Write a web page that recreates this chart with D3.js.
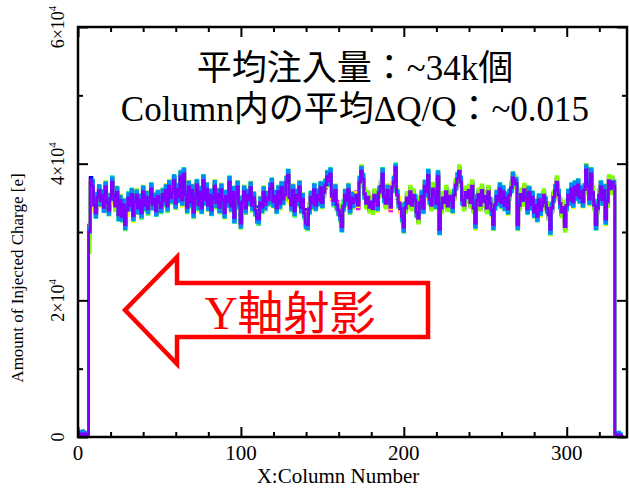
<!DOCTYPE html>
<html><head><meta charset="utf-8">
<script src="https://cdn.jsdelivr.net/npm/d3@7"></script>
<style>html,body{margin:0;padding:0;background:#fff;}svg{display:block;}</style>
</head><body>
<svg id="c" width="629" height="488"></svg>
<script>
// values in units of 100 e (injected charge), one per column 0..335
const UNIT = 100;
const serRed = [3,1,4,2,0,5,2,310,378,365,
336,330,348,364,343,356,333,369,340,334,345,376,351,340,355,327,343,325,337,313,
329,353,336,357,321,346,351,337,344,330,356,341,348,336,341,366,337,350,328,354,
340,338,352,348,358,340,364,352,355,378,339,364,348,384,344,388,351,338,363,346,
358,331,347,372,337,360,332,378,344,365,336,356,329,352,364,345,352,338,359,349,
325,354,341,376,335,360,318,352,363,344,310,346,356,337,351,349,362,341,347,334,
318,321,340,338,355,342,348,349,360,372,341,354,332,361,339,367,345,356,370,385,
347,341,358,333,351,348,363,338,345,330,310,313,331,353,339,364,336,356,343,367,
340,360,366,383,372,387,349,348,358,342,329,326,305,340,351,348,359,337,347,345,
344,356,336,375,392,379,353,344,348,338,341,336,351,348,336,360,364,387,348,344,
358,350,333,368,370,396,351,345,331,325,304,337,347,344,356,341,351,348,326,322,
340,354,332,369,356,385,345,341,360,356,339,383,301,337,347,345,356,340,349,348,
333,356,366,380,386,375,344,341,355,352,358,345,364,337,310,348,352,341,358,346,
349,337,356,344,329,313,337,354,343,365,340,361,336,352,331,356,362,381,372,373,
308,341,352,348,359,352,331,360,337,353,326,341,320,349,329,340,351,345,332,327,
301,337,348,363,370,356,339,331,333,310,336,356,344,365,341,368,351,371,347,361,
341,364,393,369,345,387,355,341,308,336,351,368,344,363,316,346,372,365,370,369,
2,0,3,1,0,0];
const serOrange = [6,8,4,9,5,3,7,290,371,364,
343,325,355,358,350,351,340,363,347,329,352,370,358,335,362,322,350,320,344,308,
336,347,343,352,328,341,358,332,351,325,363,336,355,331,348,360,344,345,335,349,
347,333,359,343,365,335,371,347,362,372,346,359,355,378,351,382,358,333,370,341,
365,326,354,366,344,355,339,372,351,360,343,351,336,347,371,340,359,333,366,344,
332,349,348,370,342,355,325,347,370,339,317,341,363,332,358,344,369,336,354,329,
325,316,347,333,362,337,355,344,367,367,348,349,339,356,346,362,352,351,377,380,
354,336,365,328,358,343,370,333,352,325,317,308,338,348,346,359,343,351,350,362,
347,355,373,378,379,382,356,343,365,337,336,321,312,335,358,343,366,332,354,340,
351,351,343,370,393,374,360,339,355,333,348,331,358,343,343,355,371,382,355,339,
365,345,340,363,377,391,358,340,338,320,311,332,354,339,363,336,358,343,333,317,
347,349,339,364,363,380,352,336,367,351,346,378,308,332,354,340,363,335,356,343,
340,351,373,375,393,370,351,336,362,347,365,340,371,332,317,343,359,336,365,341,
356,332,363,339,336,308,344,349,350,360,347,356,343,347,338,351,369,376,379,368,
315,336,359,343,366,347,338,355,344,348,333,336,327,344,336,335,358,340,339,322,
308,332,355,358,377,351,346,326,340,305,343,351,351,360,348,363,358,366,354,356,
348,359,395,364,352,382,362,336,315,331,358,363,351,358,323,341,379,360,377,364,
5,3,6,2,0,0];
const serYellow = [4,2,5,1,3,6,2,300,369,371,
331,332,349,367,337,357,332,374,337,333,340,377,352,344,349,328,342,331,334,312,
324,354,337,361,315,347,350,343,341,329,351,343,349,340,335,366,336,356,325,353,
335,340,353,352,352,341,363,358,352,376,334,366,349,387,338,388,350,344,360,345,
353,333,348,375,331,361,331,383,341,364,331,358,330,356,358,346,351,344,356,348,
320,356,342,379,329,361,317,358,360,343,305,348,357,341,345,350,361,347,344,333,
313,323,341,342,349,343,347,355,357,371,336,356,333,365,333,368,344,362,367,384,
342,343,359,337,345,349,362,344,342,329,305,315,332,357,333,365,335,362,340,366,
335,362,367,387,366,388,348,354,355,341,324,328,306,344,345,349,358,343,344,344,
339,358,337,379,380,380,352,350,345,337,336,338,352,352,330,361,363,393,345,343,
353,352,334,372,364,397,350,351,328,324,299,339,348,348,350,342,350,354,323,321,
335,356,333,373,350,386,344,347,357,355,334,385,302,341,341,346,355,346,346,347,
328,358,367,384,380,376,343,347,352,351,353,347,365,341,304,349,351,347,355,345,
344,339,357,348,323,314,336,360,340,364,335,363,337,356,325,357,361,387,369,372,
303,343,353,352,353,353,330,366,334,352,321,343,321,353,323,341,350,351,329,326,
296,339,349,367,364,357,338,337,330,309,331,358,345,369,335,369,350,377,344,360,
336,366,389,373,339,388,354,347,305,335,346,370,345,367,310,347,371,371,367,368,
4,2,1,3,0,0];
const serChartreuse = [1,3,2,4,2,1,3,270,368,360,
347,336,344,354,354,347,344,359,351,325,356,366,362,331,366,318,354,316,348,304,
340,343,347,348,332,337,362,328,355,321,367,332,359,327,352,356,348,341,339,345,
351,329,363,339,369,331,375,343,366,368,350,355,359,374,355,378,362,329,374,337,
369,322,358,362,348,351,343,368,355,356,347,347,340,343,375,336,363,329,370,340,
336,345,352,366,346,351,329,343,374,335,321,337,367,328,362,340,373,332,358,325,
329,312,351,329,366,333,359,340,371,363,352,345,343,352,350,358,356,347,381,376,
358,332,369,324,362,339,374,329,356,321,321,304,342,344,350,355,347,347,354,358,
351,351,377,374,383,378,360,339,369,333,340,317,316,331,362,339,370,328,358,336,
355,347,347,366,397,370,364,335,359,329,352,327,362,339,347,351,375,378,359,335,
369,341,344,359,381,387,362,336,342,316,315,328,358,335,367,332,362,339,337,313,
351,345,343,360,367,376,356,332,371,347,350,374,312,328,358,336,367,331,360,339,
344,347,377,371,397,366,355,332,366,343,369,336,375,328,321,339,363,332,369,337,
360,328,367,335,340,304,348,345,354,356,351,352,347,343,342,347,373,372,383,364,
319,332,363,339,370,343,342,351,348,344,337,332,331,340,340,331,362,336,343,318,
312,328,359,354,381,347,350,322,344,301,347,347,355,356,352,359,362,362,358,352,
352,355,399,360,356,378,366,332,319,327,362,359,355,354,327,337,383,356,381,360,
2,1,3,0,0,0];
const serSpring = [3,2,6,4,1,3,2,295,366,376,
345,321,356,368,340,361,330,373,348,325,354,381,348,345,364,317,351,316,346,303,
337,358,334,363,317,352,359,327,353,320,365,331,357,326,350,371,333,356,324,360,
349,328,361,338,367,330,373,342,364,383,335,370,344,389,340,393,359,328,372,336,
367,321,356,376,333,366,328,383,340,371,332,362,325,358,373,335,361,328,368,339,
321,360,337,381,331,366,314,358,372,334,306,352,365,327,360,339,371,331,356,324,
314,311,349,328,364,332,357,339,369,378,337,360,328,367,335,373,341,362,379,391,
356,331,367,323,360,338,372,328,354,320,306,303,327,359,335,370,332,362,339,373,
336,366,375,389,368,393,358,338,367,332,325,316,301,346,360,338,368,327,356,335,
353,346,345,381,395,385,349,348,344,344,337,342,347,354,332,366,360,393,344,350,
367,340,342,358,379,400,360,335,340,315,300,343,343,350,352,347,347,354,322,328,
336,360,328,375,352,391,341,347,356,362,335,389,297,343,343,351,352,346,345,354,
329,362,362,386,382,381,340,347,351,358,354,351,360,343,306,354,348,347,354,352,
345,343,352,350,325,304,333,360,339,371,336,367,332,358,327,362,358,387,368,379,
304,347,348,354,355,358,327,366,333,359,322,347,316,355,325,346,347,351,328,333,
297,343,344,369,366,362,335,337,329,316,332,362,340,371,337,374,347,377,343,367,
337,370,384,375,341,393,351,347,304,342,347,374,340,369,312,352,368,371,366,375,
2,4,1,3,0,0];
const serMagenta = [2,3,1,4,2,3,1,300,370,372,
334,333,346,366,341,359,331,371,338,337,343,378,349,343,353,330,341,328,335,316,
327,355,334,360,319,349,349,340,342,333,354,344,346,339,339,368,335,353,326,357,
338,341,350,351,356,343,362,355,353,380,337,367,346,386,342,390,349,341,361,349,
356,334,345,374,335,363,330,380,342,368,334,359,327,355,362,348,350,341,357,352,
323,357,339,378,333,363,316,355,361,347,308,349,354,340,349,352,360,344,345,337,
316,324,338,341,353,345,346,352,358,375,339,357,330,364,337,370,343,359,368,388,
345,344,356,336,349,351,361,341,343,333,308,316,329,356,337,367,334,359,341,370,
338,363,364,386,370,390,347,351,356,345,327,329,303,343,349,351,357,340,345,348,
342,359,334,378,384,382,351,347,346,341,339,339,349,351,334,363,362,390,346,347,
356,353,331,371,368,399,349,348,329,328,302,340,345,347,354,344,349,351,324,325,
338,357,330,372,354,388,343,344,358,359,337,386,299,340,345,348,354,343,347,351,
331,359,364,383,384,378,342,344,353,355,356,348,362,340,308,351,350,344,356,349,
347,340,354,347,327,316,335,357,341,368,338,364,334,355,329,359,360,384,370,376,
306,344,350,351,357,355,329,363,335,356,324,344,318,352,327,343,349,348,330,330,
299,340,346,366,368,359,337,334,331,313,334,359,342,368,339,371,349,374,345,364,
339,367,386,372,343,390,353,344,306,339,349,371,342,366,314,349,370,368,368,372,
2,1,0,1,0,0];
const serBlue = [4,2,3,5,1,2,4,298,380,362,
343,333,346,365,351,349,340,371,338,336,353,368,358,343,353,329,351,319,344,315,
327,354,344,350,328,349,349,339,352,323,363,344,346,338,349,358,344,353,327,356,
348,331,359,351,356,343,371,345,362,380,337,366,356,376,352,390,349,340,362,349,
356,333,355,364,345,362,330,379,352,358,344,350,337,354,362,348,359,331,367,351,
333,347,349,377,333,363,317,355,361,347,318,339,364,339,349,352,360,344,345,337,
326,323,338,341,353,345,356,343,368,366,349,348,340,355,347,361,353,350,378,379,
355,335,366,336,349,351,361,341,343,333,309,316,330,356,338,367,335,359,341,370,
348,354,374,377,380,381,357,342,366,336,337,320,313,334,359,342,367,331,355,339,
352,350,344,369,394,373,361,338,356,332,349,330,359,342,344,354,372,381,356,338,
366,344,341,362,378,390,359,339,339,319,312,331,355,338,364,335,359,342,334,316,
348,348,340,363,364,379,353,335,368,350,347,377,309,331,355,339,364,334,357,342,
341,350,374,374,394,369,352,335,363,346,366,339,372,331,318,342,360,335,366,340,
357,331,364,338,337,307,345,348,351,359,348,355,344,346,339,350,370,375,380,367,
316,335,360,342,367,346,339,354,345,347,334,335,328,343,337,334,359,339,340,321,
309,331,356,357,378,350,347,325,341,304,344,350,352,359,349,362,359,365,355,355,
349,358,392,363,353,381,363,335,316,330,359,362,352,357,324,340,380,359,378,363,
3,2,4,1,0,0];
const serAzure = [5,8,6,9,7,4,6,305,372,375,
346,322,357,368,339,360,330,372,350,326,355,379,347,344,365,318,352,317,347,305,
339,356,332,362,318,350,360,328,354,322,366,333,358,328,351,370,334,355,325,359,
350,330,362,340,368,332,374,344,365,382,336,369,345,388,341,392,360,330,373,338,
368,323,357,375,334,365,329,382,341,370,333,361,326,357,374,337,362,330,369,341,
322,359,338,380,332,365,315,357,373,336,307,351,366,329,361,341,372,333,357,326,
315,313,350,330,365,334,358,341,370,377,338,359,329,366,336,372,342,361,380,390,
357,333,368,325,361,340,373,330,355,322,307,305,328,358,336,369,333,361,340,372,
337,365,376,388,369,392,358,340,368,334,326,318,302,332,361,340,369,329,357,337,
354,348,346,380,395,384,350,349,345,343,338,341,348,353,333,365,361,392,345,349,
367,342,343,360,380,398,360,337,341,317,301,342,344,349,353,346,348,353,323,327,
337,359,329,374,353,390,342,346,357,361,336,388,298,342,344,350,353,345,346,353,
330,361,363,385,383,380,341,346,352,357,355,350,361,342,307,353,349,346,355,351,
346,342,353,349,326,305,334,359,340,370,337,366,333,357,328,361,359,386,369,378,
305,346,349,353,356,357,328,365,334,358,323,346,317,354,326,345,348,350,329,332,
298,342,345,368,367,361,336,336,330,315,333,361,341,370,338,373,348,376,344,366,
338,369,397,374,342,392,352,346,305,341,348,373,341,368,313,351,369,370,367,374,
6,4,7,5,0,0];
const serPurple = [3,4,2,5,3,4,2,300,375,367,
339,328,351,361,346,354,336,366,343,332,348,373,354,338,358,325,346,323,340,311,
332,350,339,355,324,344,354,335,347,328,359,339,351,334,344,363,340,348,331,352,
343,336,355,346,361,338,367,350,358,375,342,362,351,381,347,385,354,336,366,344,
361,329,350,369,340,358,335,375,347,363,339,354,332,350,367,343,355,336,362,347,
328,352,344,373,338,358,321,350,366,342,313,344,359,335,354,347,365,339,350,332,
321,319,343,336,358,340,351,347,363,370,344,352,335,359,342,365,348,354,373,383,
350,339,361,331,354,346,366,336,348,328,313,311,334,351,342,362,339,354,346,365,
343,358,369,381,375,385,352,346,361,340,332,324,308,338,354,346,362,335,350,343,
347,354,339,373,389,377,356,342,351,336,344,334,354,346,339,358,367,385,351,342,
361,348,336,366,373,394,354,343,334,323,307,335,350,342,359,339,354,346,329,320,
343,352,335,367,359,383,348,339,363,354,342,381,304,335,350,343,359,338,352,346,
336,354,369,378,389,373,347,339,358,350,361,343,367,335,313,346,355,339,361,344,
352,335,359,342,332,311,340,352,346,363,343,359,339,350,334,354,365,379,375,371,
311,339,355,346,362,350,334,358,340,351,329,339,323,347,332,338,354,343,335,325,
304,335,351,361,373,354,342,329,336,308,339,354,347,363,344,366,354,369,350,359,
344,362,391,367,348,385,358,339,311,334,354,366,347,361,319,344,375,363,373,367,
4,3,2,3,0,0];

const seriesList = [
  {name:"red", color:"#ff0000", values:serRed},
  {name:"orange", color:"#ff8000", values:serOrange},
  {name:"magenta", color:"#ff00ff", values:serMagenta},
  {name:"blue", color:"#0000ff", values:serBlue},
  {name:"yellow", color:"#ffff00", values:serYellow},
  {name:"spring", color:"#00ff80", values:serSpring},
  {name:"chartreuse", color:"#80ff00", values:serChartreuse},
  {name:"azure", color:"#0088ff", values:serAzure},
  {name:"purple", color:"#8000ff", values:serPurple}
];

const xMajor = [0,100,200,300];
const xMinor = [20,40,60,80,120,140,160,180,220,240,260,280,320];
const yMajor = [0,20000,40000,60000];
const yMinor = [10000,30000,50000];
const yLabelMant = ["0","2","4","6"];

const titleLines = ["平均注入量：~34k個","Column内の平均ΔQ/Q：~0.015"];
const xTitle = "X:Column Number";
const yTitle = "Amount of Injected Charge [e]";
const arrowText = "Y軸射影";

const SERIF = '"Liberation Serif","Times New Roman","Noto Sans CJK JP",serif';
const L=78, R=627, T=27, B=437;
const svg = d3.select("#c");
const x = d3.scaleLinear().domain([0,337]).range([L,R]);
const y = d3.scaleLinear().domain([0,60000]).range([B,T]);

svg.append("defs").append("clipPath").attr("id","clip")
  .append("rect").attr("x",L).attr("y",T).attr("width",R-L).attr("height",B-T);

const line = d3.line().x((d,i)=>x(i)).y(d=>y(d*UNIT)).curve(d3.curveStep);
const gData = svg.append("g").attr("clip-path","url(#clip)");
seriesList.forEach(s=>{
  gData.append("path").attr("d",line(s.values))
    .attr("fill","none").attr("stroke",s.color).attr("stroke-width",2.8)
    .attr("stroke-linejoin","miter").attr("stroke-miterlimit",2);
});

function styleAxis(g){ g.select(".domain").remove(); g.selectAll("line").attr("stroke","#000").attr("stroke-width",2); }
const addAxis = (axisFn, scale, vals, size, tr) => {
  svg.append("g").attr("transform",tr)
    .call(axisFn(scale).tickValues(vals).tickSize(size).tickFormat(""))
    .call(styleAxis);
};
addAxis(d3.axisBottom, x, xMajor, -10, `translate(0,${B})`);
addAxis(d3.axisBottom, x, xMinor, -5, `translate(0,${B})`);
addAxis(d3.axisTop, x, xMajor, -10, `translate(0,${T})`);
addAxis(d3.axisTop, x, xMinor, -5, `translate(0,${T})`);
addAxis(d3.axisLeft, y, yMajor, -10, `translate(${L},0)`);
addAxis(d3.axisLeft, y, yMinor, -5, `translate(${L},0)`);
addAxis(d3.axisRight, y, yMajor, -10, `translate(${R},0)`);
addAxis(d3.axisRight, y, yMinor, -5, `translate(${R},0)`);

svg.append("rect").attr("x",L).attr("y",T).attr("width",R-L).attr("height",B-T)
  .attr("fill","none").attr("stroke","#000").attr("stroke-width",2.5);

svg.append("g").selectAll("text").data(xMajor).join("text")
  .attr("x",d=>x(d)).attr("y",460).attr("text-anchor","middle")
  .attr("font-family",SERIF).attr("font-size",21).text(d=>d);

yMajor.forEach((v,i)=>{
  const t = svg.append("text").attr("transform",`translate(64,${y(v)}) rotate(-90)`)
    .attr("text-anchor","middle").attr("font-family",SERIF).attr("font-size",18);
  if (v===0) { t.text("0"); }
  else {
    t.append("tspan").text(yLabelMant[i]+"×10");
    t.append("tspan").attr("font-size",11).attr("dy",-8).text("4");
  }
});

svg.append("text").attr("x",338).attr("y",483).attr("text-anchor","middle")
  .attr("font-family",SERIF).attr("font-size",21).text(xTitle);
svg.append("text").attr("transform","translate(23,278) rotate(-90)").attr("text-anchor","middle")
  .attr("font-family",SERIF).attr("font-size",17).text(yTitle);

svg.append("g").selectAll("text").data(titleLines).join("text")
  .attr("x",355).attr("y",(d,i)=>i===0?80:121).attr("text-anchor","middle")
  .attr("font-family",SERIF).attr("font-size",35).text(d=>d);

const ap = [[125,310],[177,257],[177,283],[428,283],[428,337],[177,337],[177,364]];
svg.append("polygon").attr("points",ap.map(p=>p.join(",")).join(" "))
  .attr("fill","#fff").attr("stroke","#ff0000").attr("stroke-width",4.5).attr("stroke-linejoin","miter");
svg.append("text").attr("x",290).attr("y",329).attr("text-anchor","middle")
  .attr("font-family",SERIF).attr("font-size",46).attr("fill","#ff0000").text(arrowText);
</script>
</body></html>
